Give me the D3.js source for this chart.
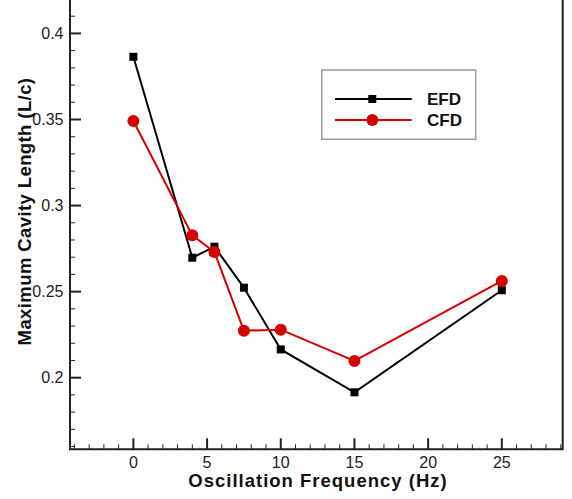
<!DOCTYPE html>
<html>
<head>
<meta charset="utf-8">
<script src="https://cdn.jsdelivr.net/npm/d3@7"></script>
<style>
  body { margin: 0; background: #fff; }
  svg { display: block; font-family: "Liberation Sans", Arial, sans-serif; }
</style>
</head>
<body>
<div id="chart"></div>
<script>
var freq = [0, 4, 5.5, 7.5, 10, 15, 25];
var efd = [0.3864, 0.2697, 0.2761, 0.2523, 0.2164, 0.1915, 0.2508];
var cfd = [0.3491, 0.2827, 0.2730, 0.2273, 0.2279, 0.2097, 0.2562];
var xTicks = [0, 5, 10, 15, 20, 25];
var yTicks = [0.2, 0.25, 0.3, 0.35, 0.4];
var seriesNames = ["EFD", "CFD"];

var width = 572, height = 499;
var plotL = 70, plotR = 562.7, plotT = -1, plotB = 449.3;

var svg = d3.select("#chart").append("svg")
    .attr("width", width)
    .attr("height", height);

var x = d3.scaleLinear().domain([-4.3, 29.13]).range([plotL, plotR]);
var y = d3.scaleLinear().domain([0.1584, 0.42]).range([plotB, plotT]);

//minor + major ticks drawn inward
var tickGroup = svg.append("g").attr("stroke", "#222");
d3.range(-4, 30, 1).forEach(function (v) {
    var major = xTicks.indexOf(v) >= 0;
    tickGroup.append("line")
        .attr("x1", x(v)).attr("x2", x(v))
        .attr("y1", plotB).attr("y2", plotB - (major ? 11 : 5))
        .attr("stroke-width", major ? 2 : 1);
});
d3.range(16, 42, 1).forEach(function (k) {
    var v = k / 100;
    var major = k % 5 == 0;
    tickGroup.append("line")
        .attr("x1", plotL).attr("x2", plotL + (major ? 11 : 5))
        .attr("y1", y(v)).attr("y2", y(v))
        .attr("stroke-width", major ? 2 : 1);
});

//tick labels
svg.append("g").selectAll("text").data(xTicks).enter().append("text")
    .attr("x", function (d) { return x(d); })
    .attr("y", 468)
    .attr("text-anchor", "middle")
    .attr("font-size", 16)
    .attr("fill", "#222")
    .text(function (d) { return d; });

svg.append("g").selectAll("text").data(yTicks).enter().append("text")
    .attr("x", 63.5)
    .attr("y", function (d) { return y(d) + 5.8; })
    .attr("text-anchor", "end")
    .attr("font-size", 16)
    .attr("fill", "#222")
    .text(function (d) { return +d.toFixed(2); });

//frame
svg.append("path")
    .attr("d", "M" + plotL + "," + plotT + "V" + plotB + "H" + plotR + "V" + plotT)
    .attr("fill", "none")
    .attr("stroke", "#222")
    .attr("stroke-width", 2);

//axis titles
svg.append("text")
    .attr("x", 318).attr("y", 486.7)
    .attr("text-anchor", "middle")
    .attr("font-size", 18.5)
    .attr("font-weight", "bold")
    .attr("letter-spacing", 1)
    .attr("fill", "#111")
    .text("Oscillation Frequency (Hz)");

svg.append("text")
    .attr("transform", "translate(30.5,211.5) rotate(-90)")
    .attr("text-anchor", "middle")
    .attr("font-size", 18.5)
    .attr("font-weight", "bold")
    .attr("letter-spacing", 0.4)
    .attr("fill", "#111")
    .text("Maximum Cavity Length (L/c)");

//series
var line = d3.line()
    .x(function (d) { return x(d[0]); })
    .y(function (d) { return y(d[1]); });

var efdPts = d3.zip(freq, efd);
var cfdPts = d3.zip(freq, cfd);

svg.append("path").datum(efdPts)
    .attr("d", line).attr("fill", "none")
    .attr("stroke", "#000").attr("stroke-width", 2);
svg.append("g").selectAll("rect").data(efdPts).enter().append("rect")
    .attr("x", function (d) { return x(d[0]) - 4; })
    .attr("y", function (d) { return y(d[1]) - 4; })
    .attr("width", 8).attr("height", 8)
    .attr("fill", "#000");

svg.append("path").datum(cfdPts)
    .attr("d", line).attr("fill", "none")
    .attr("stroke", "#d40000").attr("stroke-width", 2);
svg.append("g").selectAll("circle").data(cfdPts).enter().append("circle")
    .attr("cx", function (d) { return x(d[0]); })
    .attr("cy", function (d) { return y(d[1]); })
    .attr("r", 6)
    .attr("fill", "#d40000");

//legend
var legend = svg.append("g");
legend.append("rect")
    .attr("x", 321.7).attr("y", 70)
    .attr("width", 154).attr("height", 69.3)
    .attr("fill", "#fff")
    .attr("stroke", "#999").attr("stroke-width", 1.5);

var legendColors = ["#000", "#d40000"];
seriesNames.forEach(function (name, i) {
    var ly = 99 + i * 21;
    legend.append("line")
        .attr("x1", 335).attr("x2", 411.7)
        .attr("y1", ly).attr("y2", ly)
        .attr("stroke", legendColors[i]).attr("stroke-width", 2);
    if (i == 0) {
        legend.append("rect")
            .attr("x", 372.3 - 4).attr("y", ly - 4)
            .attr("width", 8).attr("height", 8)
            .attr("fill", "#000");
    } else {
        legend.append("circle")
            .attr("cx", 372.3).attr("cy", ly).attr("r", 6)
            .attr("fill", "#d40000");
    }
    legend.append("text")
        .attr("x", 427).attr("y", ly + 6)
        .attr("font-size", 17)
        .attr("font-weight", "bold")
        .attr("fill", "#111")
        .text(name);
});
</script>
</body>
</html>
